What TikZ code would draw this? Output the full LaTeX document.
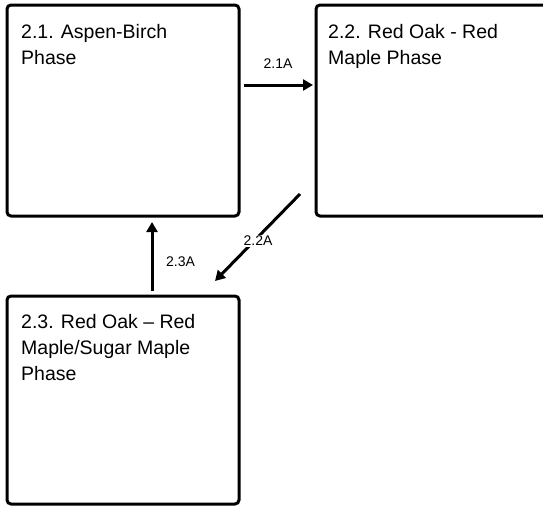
\documentclass[tikz,border=0pt]{standalone}
\usepackage{fontspec}
\setmainfont{Liberation Sans}
\usetikzlibrary{arrows.meta}
\begin{document}
\begin{tikzpicture}[x=1pt,y=-1pt,
  box/.style={draw=black, line width=3pt, rounded corners=4pt, inner sep=0pt, outer sep=0pt, fill=white},
  title/.style={anchor=north west, inner sep=0pt, align=left, font=\fontsize{19.5}{26}\selectfont},
  conn/.style={line width=3pt, -{Triangle[length=10pt,width=11pt]}},
  lbl/.style={font=\fontsize{14}{16}\selectfont, inner sep=1pt}]
\useasboundingbox (0,0) rectangle (543,506);
\clip (0,0) rectangle (543,506);
\node[box, minimum width=232pt, minimum height=211pt] (b1) at (123,110.5) {};
\node[box, minimum width=249pt, minimum height=211pt] (b2) at (440.5,110.5) {};
\node[box, minimum width=232pt, minimum height=208pt] (b3) at (123,400) {};
\node[title] (t1) at (21,24) {2.1. Aspen-Birch\\Phase};
\node[title] (t2) at (328,24) {2.2. Red Oak - Red\\Maple Phase};
\node[title] (t3) at (21,314) {2.3. Red Oak – Red\\Maple/Sugar Maple\\Phase};
\coordinate (a1s) at (244,85);
\coordinate (a1e) at (313,85);
\coordinate (a2s) at (300,194);
\coordinate (a2e) at (215,281);
\coordinate (a3s) at (152,291);
\coordinate (a3e) at (152,222);
\draw[conn] (a1s) -- (a1e);
\draw[conn] (a2s) -- (a2e);
\draw[conn] (a3s) -- (a3e);
\node[lbl] (l1) at (278,64) {2.1A};
\node[lbl, fill=white] (l2) at (258,241) {2.2A};
\node[lbl] (l3) at (180.5,262) {2.3A};
\end{tikzpicture}
\end{document}
